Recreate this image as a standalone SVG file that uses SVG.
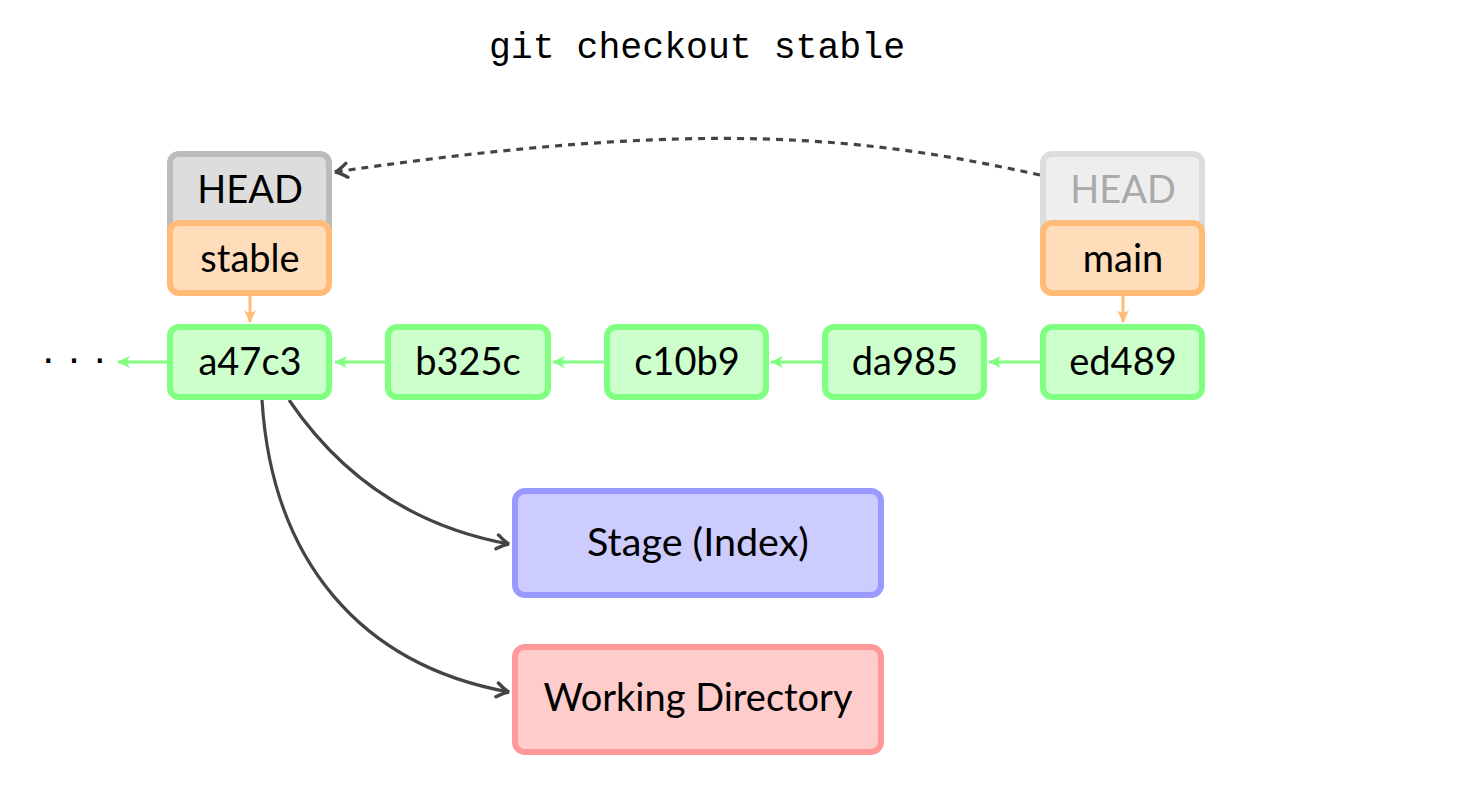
<svg xmlns="http://www.w3.org/2000/svg" width="1463" height="797" viewBox="0 0 1463 797">
<style>
.t{font-family:Lato,"Open Sans",sans-serif;font-size:38px;text-anchor:middle;fill:#000}
.commit{fill:#ccffcc;stroke:#80ff80;stroke-width:6}
.branch{fill:#ffddbb;stroke:#ffbb77;stroke-width:6}
.head{fill:#dddddd;stroke:#bbbbbb;stroke-width:6}
.headf{fill:#eeeeee;stroke:#dddddd;stroke-width:6}
.ga{stroke:#80ff80;stroke-width:3;fill:none;marker-end:url(#ag)}
.oa{stroke:#ffbb77;stroke-width:3;fill:none;marker-end:url(#ao)}
.ka{stroke:#444;stroke-width:3.2;fill:none;marker-end:url(#ak)}
</style>
<defs>
<marker id="ag" markerUnits="userSpaceOnUse" viewBox="-14 -8 16 16" markerWidth="16" markerHeight="16" refX="0" refY="0" orient="auto">
<path d="M1,0 L-12,-6 Q-7,0 -12,6 Z" fill="#80ff80"/>
</marker>
<marker id="ao" markerUnits="userSpaceOnUse" viewBox="-14 -8 16 16" markerWidth="16" markerHeight="16" refX="0" refY="0" orient="auto">
<path d="M1,0 L-12,-6 Q-7,0 -12,6 Z" fill="#ffbb77"/>
</marker>
<marker id="ak" markerUnits="userSpaceOnUse" viewBox="-15 -9 18 18" markerWidth="18" markerHeight="18" refX="0" refY="0" orient="auto">
<path d="M-12,-7 Q-4,-1 0,0 Q-4,1 -12,7" fill="none" stroke="#444" stroke-width="3.4" stroke-linecap="round"/>
</marker>
</defs>
<rect width="1463" height="797" fill="#fff"/>
<text x="697" y="58" font-family="'Liberation Mono',monospace" font-size="36.5" text-anchor="middle">git checkout stable</text>

<g id="connectors">
<path class="ga" d="M167,362 L118,362"/>
<path class="ga" d="M385,362 L335,362"/>
<path class="ga" d="M604,362 L553,362"/>
<path class="ga" d="M822,362 L771,362"/>
<path class="ga" d="M1040,362 L989,362"/>
<path class="oa" d="M250,296 L250,322"/>
<path class="oa" d="M1123,296 L1123,322"/>
<path class="ka" d="M289,400 C340,475 410,526 509,544"/>
<path class="ka" d="M262,400 C272,560 360,665 509,692"/>
<path d="M1040,175 C870,138 710,117 335,172" fill="none" stroke="#444" stroke-width="3.2" stroke-dasharray="7,6" marker-end="url(#ak)"/>
</g>

<g id="dots"><text x="74" y="372" font-family="'Liberation Sans',sans-serif" font-size="42" text-anchor="middle">· · ·</text></g>

<g id="head-left"><rect class="head" x="170" y="154" width="159" height="100" rx="9"/><text class="t" x="250" y="203">HEAD</text></g>
<g id="stable"><rect class="branch" x="170" y="223" width="159" height="70" rx="9"/><text class="t" x="250" y="272">stable</text></g>
<g id="head-right"><rect class="headf" x="1043" y="154" width="159" height="100" rx="9"/><text class="t" x="1123" y="203" style="fill:#aaaaaa">HEAD</text></g>
<g id="main"><rect class="branch" x="1043" y="223" width="159" height="70" rx="9"/><text class="t" x="1123" y="272">main</text></g>

<g id="a47c3"><rect class="commit" x="170" y="327" width="159" height="70" rx="9"/><text class="t" x="250" y="375">a47c3</text></g>
<g id="b325c"><rect class="commit" x="388" y="327" width="160" height="70" rx="9"/><text class="t" x="468" y="375">b325c</text></g>
<g id="c10b9"><rect class="commit" x="607" y="327" width="159" height="70" rx="9"/><text class="t" x="687" y="375">c10b9</text></g>
<g id="da985"><rect class="commit" x="825" y="327" width="159" height="70" rx="9"/><text class="t" x="905" y="375">da985</text></g>
<g id="ed489"><rect class="commit" x="1043" y="327" width="159" height="70" rx="9"/><text class="t" x="1123" y="375">ed489</text></g>

<g id="stage"><rect x="515" y="491" width="366" height="104" rx="10" fill="#ccccff" stroke="#9999ff" stroke-width="6"/><text class="t" x="698" y="556" style="font-size:39.5px">Stage (Index)</text></g>
<g id="workdir"><rect x="515" y="647" width="366" height="105" rx="10" fill="#ffcccc" stroke="#ff9999" stroke-width="6"/><text class="t" x="698" y="711">Working Directory</text></g>
</svg>
